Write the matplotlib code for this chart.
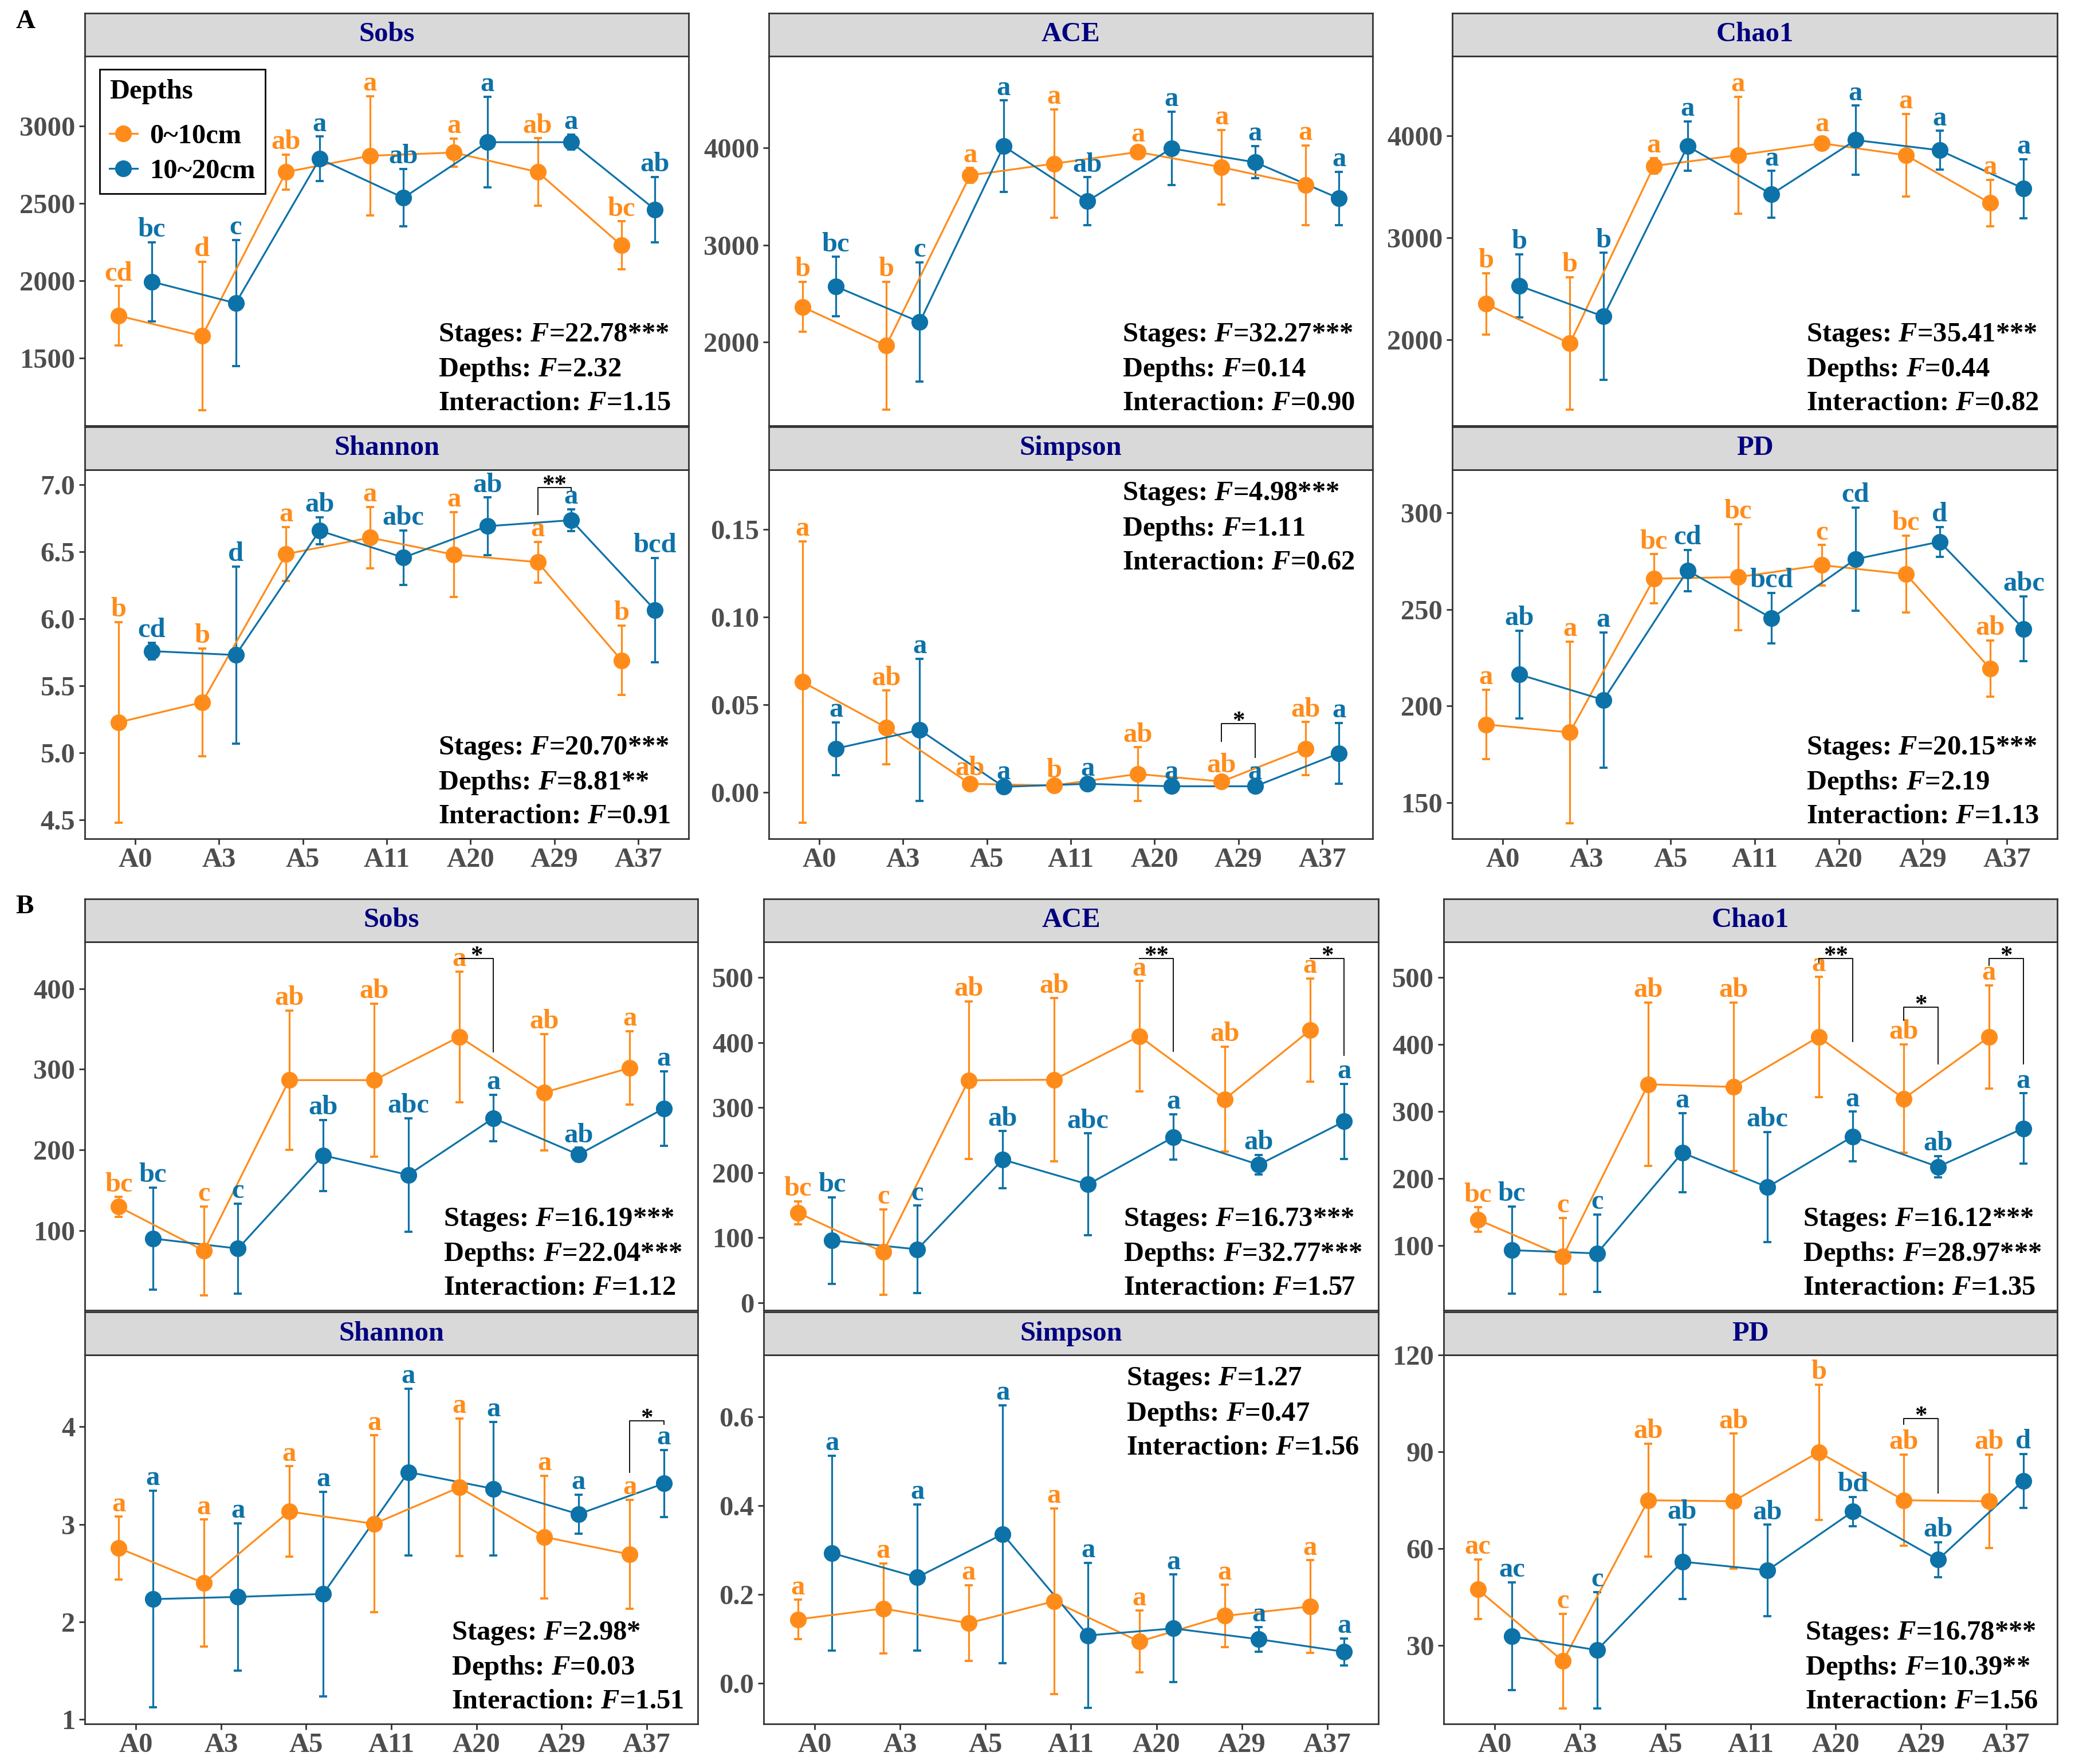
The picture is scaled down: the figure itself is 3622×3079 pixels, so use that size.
import matplotlib
matplotlib.use('Agg')
import matplotlib.pyplot as plt
from matplotlib.lines import Line2D
import numpy as np

plt.rcParams['font.family'] = 'Liberation Serif'
plt.rcParams['font.weight'] = 'bold'
plt.rcParams['mathtext.fontset'] = 'custom'
plt.rcParams['mathtext.it'] = 'Liberation Serif:italic:bold'
plt.rcParams['mathtext.rm'] = 'Liberation Serif:bold'

stages = ['A0', 'A3', 'A5', 'A11', 'A20', 'A29', 'A37']
depths = ['0~10cm', '10~20cm']

# ---- A: Sobs / ACE / Chao1 / Shannon / Simpson / PD ----
a_sobs_m1 = [1773, 1642, 2703, 2808, 2829, 2703, 2228]
a_sobs_s1 = [192, 480, 113, 387, 90, 218, 156]
a_sobs_m2 = [1993, 1854, 2788, 2536, 2896, 2896, 2460]
a_sobs_s2 = [256, 409, 144, 186, 294, 49, 211]
a_sobs_l1 = ['cd', 'd', 'ab', 'a', 'a', 'ab', 'bc']
a_sobs_l2 = ['bc', 'c', 'a', 'ab', 'a', 'a', 'ab']
a_sobs_f = ['22.78***', '2.32', '1.15']

a_ace_m1 = [2363, 1963, 3717, 3837, 3957, 3800, 3614]
a_ace_s1 = [259, 658, 78, 558, 50, 383, 409]
a_ace_m2 = [2572, 2206, 4017, 3451, 3994, 3851, 3479]
a_ace_s2 = [305, 615, 470, 246, 379, 166, 274]
a_ace_l1 = ['b', 'b', 'a', 'a', 'a', 'a', 'a']
a_ace_l2 = ['bc', 'c', 'a', 'ab', 'a', 'a', 'a']
a_ace_f = ['32.27***', '0.14', '0.90']

a_chao_m1 = [2349, 1962, 3703, 3807, 3924, 3807, 3338]
a_chao_s1 = [300, 647, 75, 575, 62, 404, 227]
a_chao_m2 = [2526, 2226, 3896, 3425, 3956, 3856, 3480]
a_chao_s2 = [310, 624, 242, 228, 338, 191, 290]
a_chao_l1 = ['b', 'b', 'a', 'a', 'a', 'a', 'a']
a_chao_l2 = ['b', 'b', 'a', 'a', 'a', 'a', 'a']
a_chao_f = ['35.41***', '0.44', '0.82']

a_shan_m1 = [5.227, 5.377, 6.483, 6.606, 6.479, 6.423, 5.690]
a_shan_s1 = [0.749, 0.402, 0.201, 0.228, 0.318, 0.152, 0.259]
a_shan_m2 = [5.759, 5.730, 6.658, 6.457, 6.691, 6.736, 6.065]
a_shan_s2 = [0.064, 0.660, 0.100, 0.204, 0.214, 0.082, 0.390]
a_shan_l1 = ['b', 'b', 'a', 'a', 'a', 'a', 'b']
a_shan_l2 = ['cd', 'd', 'ab', 'abc', 'ab', 'a', 'bcd']
a_shan_f = ['20.70***', '8.81**', '0.91']

a_simp_m1 = [0.0629, 0.0369, 0.0048, 0.0039, 0.0104, 0.0061, 0.0249]
a_simp_s1 = [0.0801, 0.0211, 0.0017, 0.0015, 0.0152, 0.0020, 0.0151]
a_simp_m2 = [0.0249, 0.0355, 0.0031, 0.0048, 0.0034, 0.0034, 0.0222]
a_simp_s2 = [0.0150, 0.0406, 0.0012, 0.0015, 0.0010, 0.0010, 0.0173]
a_simp_l1 = ['a', 'ab', 'ab', 'b', 'ab', 'ab', 'ab']
a_simp_l2 = ['a', 'a', 'a', 'a', 'a', 'a', 'a']
a_simp_f = ['4.98***', '1.11', '0.62']

a_pd_m1 = [190.5, 186.4, 265.9, 266.7, 272.9, 268.2, 219.4]
a_pd_s1 = [18.0, 46.9, 12.6, 27.5, 10.4, 19.9, 14.6]
a_pd_m2 = [216.3, 203.2, 270.1, 245.5, 276.0, 285.0, 239.9]
a_pd_s2 = [22.6, 35.0, 10.7, 13.0, 26.6, 7.7, 16.8]
a_pd_l1 = ['a', 'a', 'bc', 'bc', 'c', 'bc', 'ab']
a_pd_l2 = ['ab', 'a', 'cd', 'bcd', 'cd', 'd', 'abc']
a_pd_f = ['20.15***', '2.19', '1.13']

# ---- B ----
b_sobs_m1 = [129.3, 74.8, 286.5, 286.5, 340.2, 271.3, 301.6]
b_sobs_s1 = [12.2, 55.1, 86.2, 94.7, 81.1, 72.2, 45.7]
b_sobs_m2 = [90.0, 77.5, 193.1, 168.9, 239.4, 194.1, 251.2]
b_sobs_s2 = [63.3, 55.7, 44.0, 70.5, 29.0, 8.4, 46.5]
b_sobs_l1 = ['bc', 'c', 'ab', 'ab', 'a', 'ab', 'a']
b_sobs_l2 = ['bc', 'c', 'ab', 'abc', 'a', 'ab', 'a']
b_sobs_f = ['16.19***', '22.04***', '1.12']

b_ace_m1 = [138.2, 77.8, 342.1, 342.9, 409.9, 312.9, 419.1]
b_ace_s1 = [17.7, 65.5, 121.1, 125.3, 84.9, 80.8, 79.3]
b_ace_m2 = [95.7, 82.0, 220.1, 181.9, 254.7, 212.2, 278.8]
b_ace_s2 = [66.6, 67.3, 43.7, 78.5, 35.0, 15.0, 57.7]
b_ace_l1 = ['bc', 'c', 'ab', 'ab', 'a', 'ab', 'a']
b_ace_l2 = ['bc', 'c', 'ab', 'abc', 'a', 'ab', 'a']
b_ace_f = ['16.73***', '32.77***', '1.57']

b_chao_m1 = [138.4, 83.8, 340.4, 336.4, 411.1, 319.0, 411.1]
b_chao_s1 = [18.2, 57.2, 122.2, 125.9, 89.7, 81.2, 76.8]
b_chao_m2 = [92.7, 87.9, 238.2, 186.9, 262.4, 217.2, 274.5]
b_chao_s2 = [65.3, 57.8, 59.0, 82.3, 37.2, 15.8, 52.4]
b_chao_l1 = ['bc', 'c', 'ab', 'ab', 'a', 'ab', 'a']
b_chao_l2 = ['bc', 'c', 'a', 'abc', 'a', 'ab', 'a']
b_chao_f = ['16.12***', '28.97***', '1.35']

b_shan_m1 = [2.757, 2.398, 3.132, 3.006, 3.380, 2.871, 2.692]
b_shan_s1 = [0.321, 0.651, 0.463, 0.906, 0.707, 0.629, 0.558]
b_shan_m2 = [2.234, 2.257, 2.287, 3.536, 3.365, 3.105, 3.419]
b_shan_s2 = [1.111, 0.753, 1.048, 0.855, 0.686, 0.202, 0.344]
b_shan_l1 = ['a'] * 7
b_shan_l2 = ['a'] * 7
b_shan_f = ['2.98*', '0.03', '1.51']

b_simp_m1 = [0.1434, 0.1678, 0.1349, 0.1842, 0.0934, 0.1513, 0.1724]
b_simp_s1 = [0.0441, 0.1013, 0.0856, 0.2096, 0.0698, 0.0698, 0.1043]
b_simp_m2 = [0.2928, 0.2382, 0.3355, 0.1072, 0.1230, 0.0987, 0.0704]
b_simp_s2 = [0.2191, 0.1645, 0.2905, 0.1635, 0.1214, 0.0280, 0.0303]
b_simp_l1 = ['a'] * 7
b_simp_l2 = ['a'] * 7
b_simp_f = ['1.27', '0.47', '1.56']

b_pd_m1 = [47.4, 25.2, 75.0, 74.7, 89.9, 75.0, 74.7]
b_pd_s1 = [9.25, 14.65, 17.5, 20.95, 20.95, 14.1, 14.45]
b_pd_m2 = [32.9, 28.6, 56.0, 53.3, 71.5, 56.6, 81.0]
b_pd_s2 = [16.75, 18.0, 11.5, 14.15, 4.55, 5.4, 8.35]
b_pd_l1 = ['ac', 'c', 'ab', 'ab', 'b', 'ab', 'ab']
b_pd_l2 = ['ac', 'c', 'ab', 'ab', 'bd', 'ab', 'd']
b_pd_f = ['16.78***', '10.39**', '1.56']

# significance brackets between depths: (stage index, top, left end, right end, label)
a_shan_br = [(5, 6.98, 6.78, 6.96, '**')]
a_simp_br = [(5, 0.039, 0.029, 0.020, '*')]
b_sobs_br = [(4, 437.6, 437.6, 321.7, '*')]
b_ace_br = [(4, 529.3, 529.3, 386.6, '**'), (6, 529.3, 529.3, 380.8, '*')]
b_chao_br = [(4, 528.3, 522.0, 403.8, '**'), (5, 455.6, 435.4, 370.7, '*'),
             (6, 528.3, 518.2, 370.7, '*')]
b_shan_br = [(6, 4.063, 3.536, 4.024, '*')]
b_pd_br = [(5, 100.3, 98.5, 77.2, '*')]

ORANGE = '#FF8C1A'
BLUE = '#0D72A8'
BORDER = '#333333'
TICKC = '#4D4D4D'
FS = 35

W, H = 3622, 3079
STRIP = 75
fig = plt.figure(figsize=(W / 100, H / 100), dpi=100)


def draw_panel(cols, rows, title, m1, s1, m2, s2, l1, l2, ylim, yticks, yfmt,
               fvals, ftop=False, brackets=(), show_x=False, fx=0.585):
    x0, x1 = cols
    y0, y1 = rows
    ax = fig.add_axes([x0 / W, 1 - y1 / H, (x1 - x0) / W, (y1 - y0) / H])
    st = fig.add_axes([x0 / W, 1 - y0 / H, (x1 - x0) / W, STRIP / H])
    st.set_facecolor('#D9D9D9')
    st.set_xticks([])
    st.set_yticks([])
    for sp in st.spines.values():
        sp.set_color(BORDER)
        sp.set_linewidth(2)
    st.text(0.5, 0.5, title, ha='center', va='center', color='#000080',
            fontsize=FS, fontweight='bold', transform=st.transAxes)

    x = np.arange(len(stages))
    series = [(x - 0.2, m1, s1, l1, ORANGE), (x + 0.2, m2, s2, l2, BLUE)]
    for xs, m, s, l, c in series:
        ax.errorbar(xs, m, yerr=s, fmt='none', ecolor=c, elinewidth=2.3,
                    capsize=5, capthick=2.8, zorder=2)
    for xs, m, s, l, c in series:
        ax.plot(xs, m, color=c, lw=2.3, zorder=3)
    for xs, m, s, l, c in series:
        ax.plot(xs, m, 'o', ms=20, color=c, zorder=4)
    for xs, m, s, l, c in series:
        for xi, mi, si, li in zip(xs, m, s, l):
            ax.annotate(li, (xi, mi + si), xytext=(0, 7), textcoords='offset points',
                        ha='center', va='baseline', color=c, fontsize=35,
                        fontweight='bold', zorder=5)

    for i, ytop, yl, yr, lab in brackets:
        xl, xr = i - 0.2, i + 0.2
        ax.plot([xl, xl, xr, xr], [yl, ytop, ytop, yr], color='#111111', lw=1.4, zorder=5)
        ax.annotate(lab, ((xl + xr) / 2, ytop), xytext=(0, -5), textcoords='offset points',
                    ha='center', va='baseline', fontsize=31, fontweight='bold', zorder=6)

    ax.set_xlim(-0.6, 6.6)
    ax.set_ylim(*ylim)
    ax.set_yticks(yticks)
    ax.set_yticklabels([yfmt % v for v in yticks])
    ax.tick_params(axis='y', length=7, width=2, color=BORDER, pad=5,
                   labelsize=FS, labelcolor=TICKC)
    if show_x:
        ax.set_xticks(x)
        ax.set_xticklabels(stages)
        ax.tick_params(axis='x', length=7, width=2, color=BORDER, pad=4,
                       labelsize=FS, labelcolor=TICKC)
    else:
        ax.set_xticks([])
    for sp in ax.spines.values():
        sp.set_color(BORDER)
        sp.set_linewidth(2)

    names = ['Stages', 'Depths', 'Interaction']
    ys = [0.935, 0.84, 0.748] if ftop else [0.245, 0.152, 0.06]
    for n, v, yy in zip(names, fvals, ys):
        ax.text(fx, yy, n + ': $\\it{F}$=' + v, transform=ax.transAxes, ha='left',
                va='center', fontsize=FS, fontweight='bold', color='black', zorder=6)
    return ax


cols_a = [(148, 1202), (1342, 2396), (2535, 3591)]
cols_b = [(148, 1218), (1333, 2406), (2520, 3591)]
row_a1, row_a2 = (98, 743), (820, 1464)
row_b1, row_b2 = (1644, 2287), (2365, 3009)

ax0 = draw_panel(cols_a[0], row_a1, 'Sobs', a_sobs_m1, a_sobs_s1, a_sobs_m2, a_sobs_s2,
                 a_sobs_l1, a_sobs_l2, (1061, 3453), [1500, 2000, 2500, 3000], '%d', a_sobs_f)
draw_panel(cols_a[1], row_a1, 'ACE', a_ace_m1, a_ace_s1, a_ace_m2, a_ace_s2,
           a_ace_l1, a_ace_l2, (1139, 4944), [2000, 3000, 4000], '%d', a_ace_f)
draw_panel(cols_a[2], row_a1, 'Chao1', a_chao_m1, a_chao_s1, a_chao_m2, a_chao_s2,
           a_chao_l1, a_chao_l2, (1155, 4779), [2000, 3000, 4000], '%d', a_chao_f)
draw_panel(cols_a[0], row_a2, 'Shannon', a_shan_m1, a_shan_s1, a_shan_m2, a_shan_s2,
           a_shan_l1, a_shan_l2, (4.359, 7.112), [4.5, 5.0, 5.5, 6.0, 6.5, 7.0], '%.1f',
           a_shan_f, brackets=a_shan_br, show_x=True)
draw_panel(cols_a[1], row_a2, 'Simpson', a_simp_m1, a_simp_s1, a_simp_m2, a_simp_s2,
           a_simp_l1, a_simp_l2, (-0.0265, 0.1838), [0.0, 0.05, 0.10, 0.15], '%.2f',
           a_simp_f, ftop=True, brackets=a_simp_br, show_x=True)
draw_panel(cols_a[2], row_a2, 'PD', a_pd_m1, a_pd_s1, a_pd_m2, a_pd_s2,
           a_pd_l1, a_pd_l2, (131.4, 322.2), [150, 200, 250, 300], '%d', a_pd_f, show_x=True)

draw_panel(cols_b[0], row_b1, 'Sobs', b_sobs_m1, b_sobs_s1, b_sobs_m2, b_sobs_s2,
           b_sobs_l1, b_sobs_l2, (1, 458), [100, 200, 300, 400], '%d', b_sobs_f,
           brackets=b_sobs_br)
draw_panel(cols_b[1], row_b1, 'ACE', b_ace_m1, b_ace_s1, b_ace_m2, b_ace_s2,
           b_ace_l1, b_ace_l2, (-11.7, 555), [0, 100, 200, 300, 400, 500], '%d', b_ace_f,
           brackets=b_ace_br)
draw_panel(cols_b[2], row_b1, 'Chao1', b_chao_m1, b_chao_s1, b_chao_m2, b_chao_s2,
           b_chao_l1, b_chao_l2, (3, 553), [100, 200, 300, 400, 500], '%d', b_chao_f,
           brackets=b_chao_br)
draw_panel(cols_b[0], row_b2, 'Shannon', b_shan_m1, b_shan_s1, b_shan_m2, b_shan_s2,
           b_shan_l1, b_shan_l2, (0.955, 4.737), [1, 2, 3, 4], '%d', b_shan_f,
           brackets=b_shan_br, show_x=True, fx=0.598)
draw_panel(cols_b[1], row_b2, 'Simpson', b_simp_m1, b_simp_s1, b_simp_m2, b_simp_s2,
           b_simp_l1, b_simp_l2, (-0.092, 0.739), [0.0, 0.2, 0.4, 0.6], '%.1f', b_simp_f,
           ftop=True, show_x=True, fx=0.59)
draw_panel(cols_b[2], row_b2, 'PD', b_pd_m1, b_pd_s1, b_pd_m2, b_pd_s2,
           b_pd_l1, b_pd_l2, (5.76, 120), [30, 60, 90, 120], '%d', b_pd_f,
           brackets=b_pd_br, show_x=True, fx=0.589)

# legend in first panel
handles = [Line2D([0], [0], color=ORANGE, lw=2.3, marker='o', ms=20),
           Line2D([0], [0], color=BLUE, lw=2.3, marker='o', ms=20)]
leg = ax0.legend(handles, depths, title='Depths', loc='upper left',
                 bbox_to_anchor=(0.0247, 0.964), frameon=True, fancybox=False,
                 edgecolor='black', framealpha=1, handlelength=1.0, handletextpad=0.45,
                 labelspacing=0.35, borderpad=0.35, borderaxespad=0,
                 prop={'size': FS, 'weight': 'bold'},
                 title_fontproperties={'size': FS, 'weight': 'bold'})
leg._legend_box.align = 'left'
leg._legend_box.sep = 24
leg.get_frame().set_linewidth(2)
leg.set_zorder(10)

fig.text(45 / W, 1 - 38 / H, 'A', ha='center', va='center', fontsize=34, fontweight='bold')
fig.text(43 / W, 1 - 1583 / H, 'B', ha='center', va='center', fontsize=34, fontweight='bold')

fig.savefig('out.png', dpi=100, facecolor='white')
